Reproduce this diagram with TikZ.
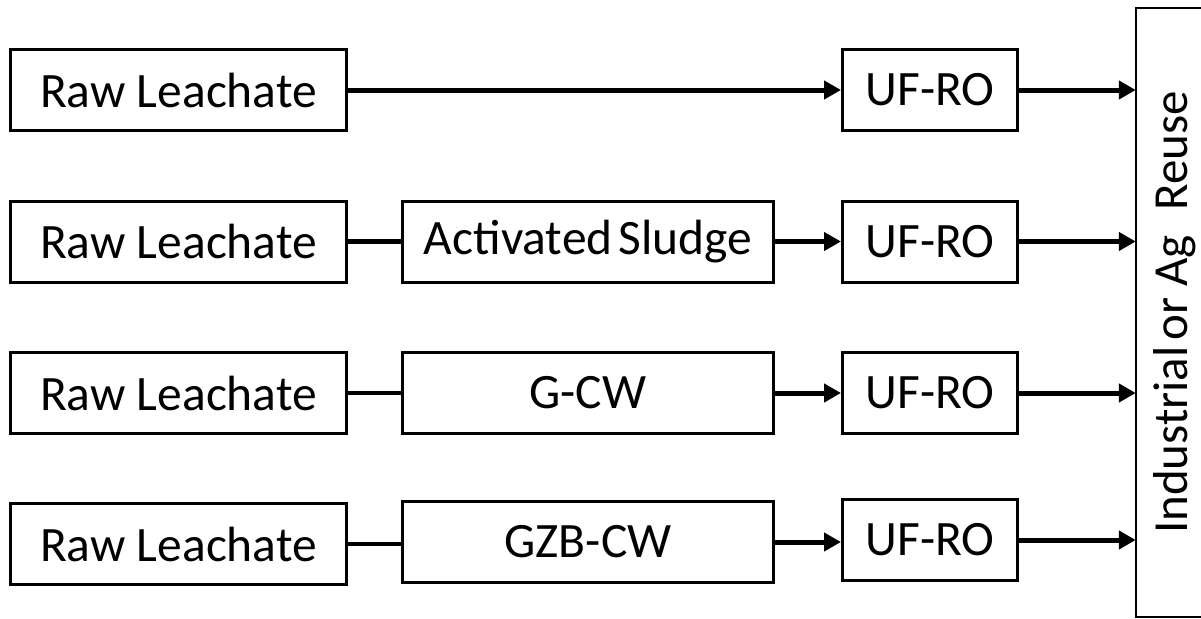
\documentclass[tikz,border=0pt]{standalone}
\usepackage{fontspec}
\setmainfont{Carlito}
\usetikzlibrary{arrows.meta}
\begin{document}
\begin{tikzpicture}[x=1pt,y=-1pt,
  stagebox/.style={draw=black, line width=3pt, fill=white, inner sep=0pt,
    minimum height=81pt, font=\fontsize{49.5}{54}\selectfont},
  rawbox/.style={stagebox, minimum width=336pt},
  treatbox/.style={stagebox, minimum width=371pt},
  membox/.style={stagebox, minimum width=175pt},
  flow/.style={line width=5pt, -{Triangle[length=17pt,width=18pt]}},
  link/.style={line width=4.5pt},
  frame/.style={draw=black, line width=1.5pt}
]
\useasboundingbox (0,0) rectangle (1201,618);
\clip (0,0) rectangle (1201,618);
\fill[white] (0,0) rectangle (1201,618);

% end use: label plus a frame whose right side runs past the page edge
\node[rotate=90, minimum width=609pt, minimum height=78pt,
  inner sep=0pt, font=\fontsize{49}{54}\selectfont] (reuse) at (1175,312.5)
  {Industrial\hspace{0.12em}or Ag\hspace{0.5em}Reuse};
\draw[frame] (1230,8) -- (1136,8) -- (1136,617) -- (1230,617);

% route 1: direct membrane treatment
\node[rawbox] (raw1) at (178.5,90) {Raw Leachate};
\node[membox] (uf1) at (930,90) {UF-RO};

% route 2: activated sludge
\node[rawbox] (raw2) at (178.5,241.5) {Raw Leachate};
\node[treatbox] (as) at (588,241.5) {Activated\hspace{0.12em}Sludge};
\node[membox] (uf2) at (930,241.5) {UF-RO};

% route 3: gravel constructed wetland
\node[rawbox] (raw3) at (178.5,393) {Raw Leachate};
\node[treatbox] (gcw) at (588,393) {G-CW};
\node[membox] (uf3) at (930,393) {UF-RO};

% route 4: gravel-zeolite-biochar constructed wetland
\node[rawbox] (raw4) at (178.5,544) {Raw Leachate};
\node[treatbox] (gzb) at (588,542) {GZB-CW};
\node[membox] (uf4) at (930,540) {UF-RO};

% connectors
\draw[flow] (raw1.east) -- (uf1.west);
\draw[flow] (uf1.east) -- (uf1.east -| reuse.north);

\draw[link] (raw2.east) -- (raw2.east -| as.west);
\draw[flow] (as.east) -- (as.east -| uf2.west);
\draw[flow] (uf2.east) -- (uf2.east -| reuse.north);

\draw[link] (raw3.east) -- (raw3.east -| gcw.west);
\draw[flow] (gcw.east) -- (gcw.east -| uf3.west);
\draw[flow] (uf3.east) -- (uf3.east -| reuse.north);

\draw[link] (raw4.east) -- (raw4.east -| gzb.west);
\draw[flow] (gzb.east) -- (gzb.east -| uf4.west);
\draw[flow] (uf4.east) -- (uf4.east -| reuse.north);
\end{tikzpicture}
\end{document}
